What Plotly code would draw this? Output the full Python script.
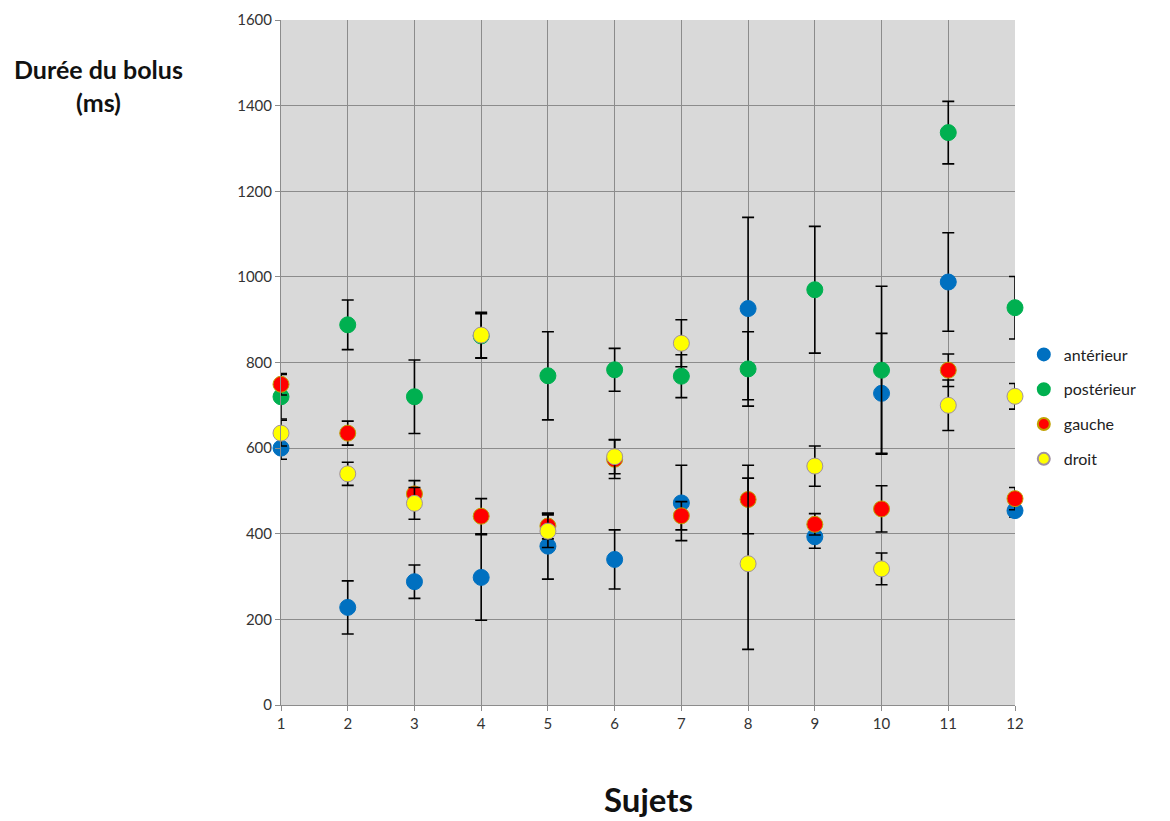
import plotly.graph_objects as go

subjects = list(range(1, 13))

anterieur = [600, 228, 288, 298, 371, 340, 472, 926, 393, 728, 988, 454]
anterieur_err = [26, 62, 39, 100, 77, 69, 88, 213, 27, 140, 115, 15]

posterieur = [720, 888, 720, 862, 769, 783, 768, 785, 970, 782, 1337, 928]
posterieur_err = [52, 58, 86, 52, 103, 50, 50, 87, 148, 196, 73, 73]

gauche = [749, 635, 493, 441, 418, 574, 442, 480, 422, 458, 782, 482]
gauche_err = [25, 28, 31, 41, 30, 45, 33, 80, 25, 54, 38, 26]

droit = [635, 540, 471, 864, 406, 580, 845, 330, 558, 318, 700, 721]
droit_err = [30, 27, 37, 53, 38, 40, 55, 200, 47, 37, 59, 30]

series = [
    ("antérieur", anterieur, anterieur_err, "#0070C0", "#0070C0"),
    ("postérieur", posterieur, posterieur_err, "#00B050", "#00B050"),
    ("gauche", gauche, gauche_err, "#FF0000", "#C0A000"),
    ("droit", droit, droit_err, "#FFFF00", "#A090A0"),
]

fig = go.Figure()
for name, vals, errs, col, lc in series:
    fig.add_trace(go.Scatter(
        x=subjects, y=vals, name=name, mode="markers", legendgroup=name,
        marker=dict(color=col, size=16, line=dict(color=lc, width=1)),
        error_y=dict(type="data", array=errs, visible=True, color="black",
                     thickness=1.6, width=6),
        cliponaxis=False,
    ))

fig.update_layout(
    width=1170, height=821,
    margin=dict(l=273, r=163, t=12, b=124, autoexpand=False),
    plot_bgcolor="#D9D9D9",
    paper_bgcolor="white",
    font=dict(family="Lato, Open Sans, sans-serif", size=14, color="#333"),
    showlegend=True,
    legend=dict(x=1.012, y=0.435, xanchor="left", yanchor="middle",
                traceorder="grouped", tracegroupgap=11,
                font=dict(size=16, color="#222"), itemsizing="constant",
                itemwidth=30, bgcolor="rgba(0,0,0,0)"),
    xaxis=dict(range=[1, 12], tickmode="array", tickvals=subjects,
               showgrid=True, gridcolor="#8C8C8C", gridwidth=1,
               zeroline=False, showline=True, linecolor="#8C8C8C",
               ticks="outside", ticklen=5, tickcolor="#8C8C8C",
               tickfont=dict(size=15)),
    yaxis=dict(range=[0, 1600], tickmode="array",
               tickvals=[0, 200, 400, 600, 800, 1000, 1200, 1400, 1600],
               showgrid=True, gridcolor="#8C8C8C", gridwidth=1,
               zeroline=False, showline=True, linecolor="#8C8C8C",
               ticks="outside", ticklen=5, tickcolor="#8C8C8C",
               tickfont=dict(size=15)),
    annotations=[
        dict(text="<b>Durée du bolus<br>(ms)</b>", xref="paper", yref="paper",
             x=-0.249, y=0.905, xanchor="center", yanchor="middle", showarrow=False,
             font=dict(size=25, color="#111"), align="center"),
        dict(text="<b>Sujets</b>", xref="paper", yref="paper",
             x=0.5, y=-0.137, xanchor="center", yanchor="middle", showarrow=False,
             font=dict(size=33, color="#111")),
    ],
)

fig.write_html("out.html")
